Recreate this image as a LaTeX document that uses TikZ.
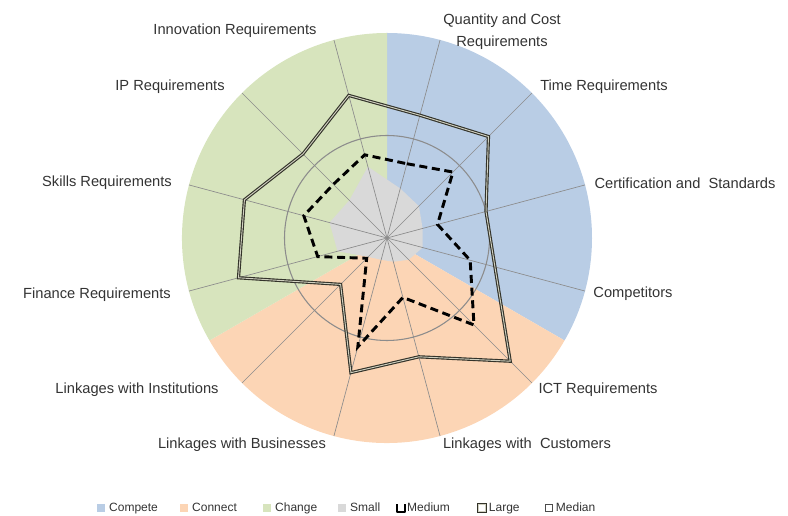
\documentclass[tikz,border=0pt]{standalone}
\usepackage{fontspec}
\setmainfont{Liberation Sans}
\usetikzlibrary{positioning}

\definecolor{compete}{HTML}{B9CDE5}
\definecolor{connect}{HTML}{FCD5B5}
\definecolor{change}{HTML}{D7E4BD}
\definecolor{smallgray}{HTML}{D9D9D9}
\definecolor{gridgray}{HTML}{8C8C8C}
\definecolor{txt}{HTML}{333333}
\definecolor{largeline}{HTML}{33332A}
\definecolor{largein}{HTML}{D0D0C0}

\begin{document}
\begin{tikzpicture}[x=0.75pt,y=0.75pt,
	lbl/.style={font=\fontsize{11}{16.5}\selectfont,text=txt,inner sep=0pt,align=center},
	leg/.style={font=\fontsize{9}{11}\selectfont,text=txt,inner sep=0pt,anchor=west,text height=6.5pt,text depth=1.5pt},
	key/.style={minimum size=5.5pt,inner sep=0pt,draw=none},
	spoke/.style={draw=gridgray,line width=0.5pt},
	ring/.style={draw=gridgray,line width=0.8pt},
	large/.style={draw=largeline,double=largein,double distance=0.7pt,line width=0.85pt},
	medium/.style={draw=black,line width=2.2pt,dash pattern=on 6pt off 3.5pt},
	small/.style={fill=smallgray}]
	\useasboundingbox (-387,-278) rectangle (401,238);
	\def\R{205}
	\coordinate (c) at (0,0);
	
	% pie behind the radar
	\fill[compete] (c) -- (90:\R) arc[start angle=90,end angle=-30,radius=\R] -- cycle;
	\fill[connect] (c) -- (-30:\R) arc[start angle=-30,end angle=-150,radius=\R] -- cycle;
	\fill[change] (c) -- (-150:\R) arc[start angle=-150,end angle=-270,radius=\R] -- cycle;
	
	% axis ends and series points
	\foreach \i in {1,...,12}
		\coordinate (a\i) at ({105-30*\i}:\R);
	\foreach \v [count=\i] in {0.25,0.22,0.18,0.18,0.15,0.12,0.11,0.13,0.25,0.29,0.26,0.36}
		\coordinate (s\i) at ({105-30*\i}:{\v*\R});
	\foreach \v [count=\i] in {0.375,0.455,0.255,0.42,0.60,0.30,0.55,0.14,0.35,0.42,0.37,0.42}
		\coordinate (m\i) at ({105-30*\i}:{\v*\R});
	\foreach \v [count=\i] in {0.62,0.70,0.50,0.545,0.85,0.60,0.68,0.32,0.75,0.72,0.58,0.72}
		\coordinate (l\i) at ({105-30*\i}:{\v*\R});
	
	\fill[small] (s1) \foreach \i in {2,...,12}{-- (s\i)} -- cycle;
	\foreach \i in {1,...,12}
		\draw[spoke] (c) -- (a\i);
	\draw[ring] (c) circle[radius={0.5*\R}];
	\fill[gridgray] (c) circle[radius=1.5];
	
	\draw[large] (l1) \foreach \i in {2,...,12}{-- (l\i)} -- cycle;
	\draw[medium] (m1) \foreach \i in {2,...,12}{-- (m\i)} -- cycle;
	
	% axis labels
	\node[lbl] (qty)   at (115,206)    {Quantity and Cost\\Requirements};
	\node[lbl] (time)  at (217,151)    {Time Requirements};
	\node[lbl] (cert)  at (298,55)     {Certification and\ \ Standards};
	\node[lbl] (comp)  at (246,-56)    {Competitors};
	\node[lbl] (ict)   at (211,-152)   {ICT Requirements};
	\node[lbl] (cust)  at (140,-207)   {Linkages with\ \ Customers};
	\node[lbl] (bus)   at (-145,-207)  {Linkages with Businesses};
	\node[lbl] (inst)  at (-250,-152)  {Linkages with Institutions};
	\node[lbl] (fin)   at (-290,-57)   {Finance Requirements};
	\node[lbl] (skill) at (-280,55)    {Skills Requirements};
	\node[lbl] (ip)    at (-217,151)   {IP Requirements};
	\node[lbl] (innov) at (-152,207)   {Innovation Requirements};
	
	% legend
	\node[key,fill=compete] (kcompete) at (-286,-270) {};
	\node[leg,right=3pt of kcompete] (tcompete) {Compete};
	\node[key,fill=connect] (kconnect) at (-203,-270) {};
	\node[leg,right=3pt of kconnect] (tconnect) {Connect};
	\node[key,fill=change] (kchange) at (-120,-270) {};
	\node[leg,right=3pt of kchange] (tchange) {Change};
	\node[key,fill=smallgray] (ksmall) at (-45,-270) {};
	\node[leg,right=3pt of ksmall] (tsmall) {Small};
	\node[key] (kmedium) at (14,-270) {};
	\draw[line width=2pt,line join=round] (kmedium.north west) -- (kmedium.south west) -- (kmedium.south east) -- (kmedium.north east);
	\node[leg,right=1.5pt of kmedium] (tmedium) {Medium};
	\node[key,draw=largeline,double=largein,double distance=0.7pt,line width=0.5pt] (klarge) at (95,-270) {};
	\node[leg,right=2pt of klarge] (tlarge) {Large};
	\node[key,draw=black!70,line width=0.5pt,fill=white] (kmedian) at (162,-270) {};
	\node[leg,right=2pt of kmedian] (tmedian) {Median};
\end{tikzpicture}
\end{document}
